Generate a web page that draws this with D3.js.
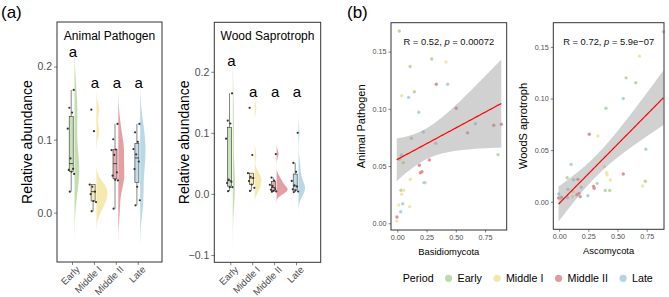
<!DOCTYPE html>
<html>
<head>
<meta charset="utf-8">
<script src="https://cdn.jsdelivr.net/npm/d3@7"></script>
<style>
  body { margin: 0; background: #fff; }
  svg { display: block; font-family: "Liberation Sans", Arial, sans-serif; }
</style>
</head>
<body>
<div id="chart"></div>
<script>
const periods = ["Early", "Middle I", "Middle II", "Late"];
const periodColors = ["#b3d69a", "#f3e39a", "#df878b", "#a6cee0"];

// [period, Basidiomycota, Animal Pathogen]
const apPoints = [
  ["Early", 0.017, 0.168], ["Early", 0.109, 0.137], ["Early", 0.294, 0.1436], ["Early", 0.146, 0.115],
  ["Early", 0.120, 0.0743], ["Early", 0.017, 0.056], ["Early", 0.051, 0.053], ["Early", 0.861, 0.060],
  ["Early", 0.032, 0.0288], ["Early", 0.035, 0.0585],
  ["Middle I", 0.416, 0.141], ["Middle I", 0.037, 0.1115], ["Middle I", 0.111, 0.0385], ["Middle I", 0.240, 0.0355],
  ["Middle I", 0.055, 0.0288], ["Middle I", 0.037, 0.0253], ["Middle I", 0.012, 0.016], ["Middle I", 0.106, 0.0145],
  ["Middle I", -0.005, 0.002],
  ["Middle II", 0.333, 0.1215], ["Middle II", 0.504, 0.1005], ["Middle II", 0.600, 0.079], ["Middle II", 0.824, 0.0857],
  ["Middle II", 0.889, 0.0865], ["Middle II", 0.188, 0.0507], ["Middle II", 0.274, 0.0553], ["Middle II", 0.197, 0.0442],
  ["Middle II", 0.211, 0.045], ["Middle II", -0.003, 0.0055],
  ["Late", 0.430, 0.1215], ["Late", 0.097, 0.110], ["Late", 0.183, 0.097], ["Late", 0.222, 0.0798],
  ["Late", 0.328, 0.070], ["Late", 0.667, 0.087], ["Late", 0.037, 0.0597], ["Late", 0.228, 0.0355],
  ["Late", 0.046, 0.017], ["Late", 0.029, 0.0101]
];

// [period, Ascomycota, Wood Saprotroph]
const wsPoints = [
  ["Early", 0.893, 0.1647], ["Early", 0.573, 0.120], ["Early", 0.656, 0.1153], ["Early", 0.401, 0.0905],
  ["Early", 0.069, 0.0233], ["Early", 0.738, 0.0198], ["Early", 0.326, 0.0178], ["Early", 0.395, 0.011],
  ["Early", 0.433, 0.011], ["Early", 0.020, 0.0045],
  ["Middle I", 0.687, 0.141], ["Middle I", 0.332, 0.0637], ["Middle I", 0.386, 0.034], ["Middle I", 0.407, 0.0281],
  ["Middle I", 0.438, 0.021], ["Middle I", 0.716, 0.0152], ["Middle I", 0.115, 0.0049], ["Middle I", 0.410, 0.026],
  ["Middle I", 0.120, 0.010],
  ["Middle II", 0.258, 0.0653], ["Middle II", 0.549, 0.0268], ["Middle II", 0.161, 0.0217], ["Middle II", 0.295, 0.0149],
  ["Middle II", 0.152, 0.0068], ["Middle II", 0.180, 0.0049], ["Middle II", -0.005, 0.0036], ["Middle II", 0.170, 0.008],
  ["Middle II", 0.020, 0.004], ["Middle II", 0.300, 0.013],
  ["Late", 0.549, 0.100], ["Late", 0.742, 0.0508], ["Late", 0.103, 0.0362], ["Late", 0.124, 0.0213],
  ["Late", 0.189, 0.014], ["Late", 0.075, 0.012], ["Late", -0.003, 0.0075], ["Late", 0.246, 0.0058],
  ["Late", 0.072, 0.0039], ["Late", 0.010, 0.003]
];

const groupLetters = ["a", "a", "a", "a"];
const apLetterY = [0.213, 0.171, 0.171, 0.171];
const wsLetterY = [0.210, 0.158, 0.158, 0.158];
const apTicks = [0, 0.1, 0.2];
const wsTicks = [-0.1, 0, 0.1, 0.2];
const scatterYTicks = [0, 0.05, 0.10, 0.15];
const scatterXTicks = [0, 0.25, 0.5, 0.75];
const statAP = ["R = 0.52, ", "p", " = 0.00072"];
const statWS = ["R = 0.72, ", "p", " = 5.9e\u221207"];

const W = 669, H = 297;
const svg = d3.select("#chart").append("svg").attr("width", W).attr("height", H);
const colorOf = d3.scaleOrdinal().domain(periods).range(periodColors);

// panel tags
svg.append("text").attr("x", 1).attr("y", 18).attr("font-size", 17).text("(a)");
svg.append("text").attr("x", 347).attr("y", 18).attr("font-size", 17).text("(b)");

function styleAxis(ax, size) {
  ax.select(".domain").remove();
  ax.selectAll(".tick line").attr("stroke", "#333").attr("stroke-width", 0.6);
  ax.selectAll(".tick text").attr("fill", "#4d4d4d").attr("font-size", size).attr("font-family", null);
}

function gauss(u) { return Math.exp(-0.5 * u * u) / Math.sqrt(2 * Math.PI); }

function rainPanel(cfg) {
  const { L, R, T, B } = cfg;
  const y = d3.scaleLinear().domain(cfg.yDomain).range([B, T]);
  const x = d3.scalePoint().domain(periods).range(cfg.catRange);
  const g = svg.append("g");

  const groups = periods.map(p => {
    const vals = cfg.data.filter(d => d[0] === p).map(d => d[2]).sort(d3.ascending);
    const q1 = d3.quantile(vals, 0.25), q3 = d3.quantile(vals, 0.75), med = d3.quantile(vals, 0.5);
    const iqr = q3 - q1;
    const bw = 0.9 * Math.min(d3.deviation(vals), iqr / 1.34) * Math.pow(vals.length, -0.2);
    const lo = vals[0] - 3 * bw, hi = vals[vals.length - 1] + 3 * bw;
    const dens = d3.range(0, 121).map(i => {
      const v = lo + (hi - lo) * i / 120;
      return [v, d3.mean(vals, s => gauss((v - s) / bw)) / bw];
    });
    const inF = vals.filter(v => v >= q1 - 1.5 * iqr && v <= q3 + 1.5 * iqr);
    return { p, vals, q1, q3, med, wLo: d3.min(inF), wHi: d3.max(inF), dens };
  });
  const maxD = d3.max(groups, gr => d3.max(gr.dens, d => d[1]));

  // half violins
  groups.forEach(gr => {
    const base = x(gr.p) + 2.5;
    const area = d3.area()
      .y(d => y(d[0]))
      .x0(base)
      .x1(d => base + d[1] / maxD * cfg.violinW)
      .curve(d3.curveBasis);
    g.append("path").attr("d", area(gr.dens))
      .attr("fill", colorOf(gr.p)).attr("fill-opacity", 0.8);
  });

  // boxes
  groups.forEach(gr => {
    const cx = x(gr.p) - 0.8, bw = 4;
    g.append("line").attr("x1", cx).attr("x2", cx).attr("y1", y(gr.wHi)).attr("y2", y(gr.q3))
      .attr("stroke", "#333").attr("stroke-width", 0.6);
    g.append("line").attr("x1", cx).attr("x2", cx).attr("y1", y(gr.q1)).attr("y2", y(gr.wLo))
      .attr("stroke", "#333").attr("stroke-width", 0.6);
    g.append("rect").attr("x", cx - bw / 2).attr("width", bw)
      .attr("y", y(gr.q3)).attr("height", y(gr.q1) - y(gr.q3))
      .attr("fill", colorOf(gr.p)).attr("fill-opacity", 0.7)
      .attr("stroke", "#333").attr("stroke-width", 0.6);
    g.append("line").attr("x1", cx - bw / 2).attr("x2", cx + bw / 2)
      .attr("y1", y(gr.med)).attr("y2", y(gr.med))
      .attr("stroke", "#222").attr("stroke-width", 0.8);
  });

  // jittered raw points (deterministic spread)
  groups.forEach(gr => {
    gr.vals.forEach((v, i) => {
      const off = (((i * 0.618034 + 0.3) % 1) - 0.5) * 7;
      g.append("circle").attr("cx", x(gr.p) - 0.8 + off).attr("cy", y(v)).attr("r", 1.1)
        .attr("fill", "#333");
    });
  });

  // significance letters
  periods.forEach((p, i) => {
    g.append("text").attr("x", x(p) + 1).attr("y", y(cfg.letterY[i]))
      .attr("text-anchor", "middle").attr("font-size", 15).text(groupLetters[i]);
  });

  // axes
  const ay = g.append("g").attr("transform", `translate(${L},0)`)
    .call(d3.axisLeft(y).tickValues(cfg.ticks).tickFormat(d3.format(".1f")).tickSize(3).tickPadding(2));
  styleAxis(ay, 10.5);
  const ax = g.append("g").attr("transform", `translate(0,${B})`)
    .call(d3.axisBottom(x).tickSize(3));
  styleAxis(ax, 9.6);
  ax.selectAll(".tick text")
    .attr("text-anchor", "end").attr("y", 0).attr("dy", 0)
    .attr("transform", "translate(8,8) rotate(-45)");

  g.append("rect").attr("x", L).attr("y", T).attr("width", R - L).attr("height", B - T)
    .attr("fill", "none").attr("stroke", "#333").attr("stroke-width", 1);

  g.append("text").attr("x", (L + R) / 2).attr("y", T + 18).attr("text-anchor", "middle")
    .attr("font-size", 12).text(cfg.title);
  g.append("text").attr("transform", `translate(${L - 25},${(T + B) / 2}) rotate(-90)`)
    .attr("text-anchor", "middle").attr("font-size", 14).text("Relative abundance");
}

function scatterPanel(cfg) {
  const { L, R, T, B } = cfg;
  const x = d3.scaleLinear().domain(cfg.xDomain).range([L, R]);
  const y = d3.scaleLinear().domain(cfg.yDomain).range([B, T]);
  const g = svg.append("g");

  g.selectAll(".pt").data(cfg.data).enter().append("circle")
    .attr("cx", d => x(d[1])).attr("cy", d => y(d[2])).attr("r", 1.7)
    .attr("fill", d => colorOf(d[0])).attr("fill-opacity", 0.9);

  // linear fit with 95% confidence band
  const pts = cfg.data.map(d => [d[1], d[2]]);
  const n = pts.length;
  const xbar = d3.mean(pts, d => d[0]), ybar = d3.mean(pts, d => d[1]);
  const sxx = d3.sum(pts, d => (d[0] - xbar) ** 2);
  const sxy = d3.sum(pts, d => (d[0] - xbar) * (d[1] - ybar));
  const b = sxy / sxx, a = ybar - b * xbar;
  const s2 = d3.sum(pts, d => (d[1] - a - b * d[0]) ** 2) / (n - 2);
  const tq = 2.03;
  const [xmin, xmax] = d3.extent(pts, d => d[0]);
  const fit = d3.range(0, 81).map(i => {
    const xv = xmin + (xmax - xmin) * i / 80;
    const se = Math.sqrt(s2 * (1 / n + (xv - xbar) ** 2 / sxx));
    const yh = a + b * xv;
    return { xv, yh, lo: yh - tq * se, hi: yh + tq * se };
  });
  g.append("path")
    .attr("d", d3.area().x(d => x(d.xv)).y0(d => y(d.lo)).y1(d => y(d.hi))(fit))
    .attr("fill", "#999").attr("fill-opacity", 0.45);
  g.append("path")
    .attr("d", d3.line().x(d => x(d.xv)).y(d => y(d.yh))(fit))
    .attr("fill", "none").attr("stroke", "#ff0000").attr("stroke-width", 1.2);

  const ay = g.append("g").attr("transform", `translate(${L},0)`)
    .call(d3.axisLeft(y).tickValues(scatterYTicks).tickFormat(d3.format(".2f")).tickSize(2.5).tickPadding(2));
  styleAxis(ay, 7.2);
  const ax = g.append("g").attr("transform", `translate(0,${B})`)
    .call(d3.axisBottom(x).tickValues(scatterXTicks).tickFormat(d3.format(".2f")).tickSize(2.5).tickPadding(2));
  styleAxis(ax, 7.2);

  g.append("rect").attr("x", L).attr("y", T).attr("width", R - L).attr("height", B - T)
    .attr("fill", "none").attr("stroke", "#333").attr("stroke-width", 1);

  const st = g.append("text").attr("x", (L + R) / 2).attr("y", T + 22)
    .attr("text-anchor", "middle").attr("font-size", 9.4).attr("fill", "#111");
  st.append("tspan").text(cfg.stat[0]);
  st.append("tspan").attr("font-style", "italic").text(cfg.stat[1]);
  st.append("tspan").text(cfg.stat[2]);

  g.append("text").attr("x", (L + R) / 2).attr("y", B + 25).attr("text-anchor", "middle")
    .attr("font-size", 9.4).text(cfg.xTitle);
  g.append("text").attr("transform", `translate(${L - 26},${(T + B) / 2}) rotate(-90)`)
    .attr("text-anchor", "middle").attr("font-size", 11).text(cfg.yTitle);
}

rainPanel({ L: 57, R: 162, T: 22, B: 262, yDomain: [-0.0675, 0.261], ticks: apTicks,
  catRange: [72, 137.7], data: apPoints, letterY: apLetterY, title: "Animal Pathogen", violinW: 11 });
rainPanel({ L: 214.3, R: 320.7, T: 22.3, B: 262.3, yDomain: [-0.112, 0.281], ticks: wsTicks,
  catRange: [230.3, 296], data: wsPoints, letterY: wsLetterY, title: "Wood Saprotroph", violinW: 11 });

scatterPanel({ L: 391, R: 506.7, T: 22.7, B: 230, xDomain: [-0.054, 0.935], yDomain: [-0.0059, 0.1753],
  data: apPoints, stat: statAP, xTitle: "Basidiomycota", yTitle: "Animal Pathogen" });
scatterPanel({ L: 553.3, R: 664, T: 22.7, B: 229.3, xDomain: [-0.05, 0.898], yDomain: [-0.0267, 0.1734],
  data: wsPoints, stat: statWS, xTitle: "Ascomycota", yTitle: "WoodS aprotroph" });

// legend
const leg = svg.append("g").attr("font-size", 10.7);
const legTitle = leg.append("text").attr("x", 402.7).attr("y", 282).text("Period");
let cursor = 402.7 + legTitle.node().getComputedTextLength() + 11.4;
periods.forEach(p => {
  leg.append("circle").attr("cx", cursor + 3.6).attr("cy", 278.3).attr("r", 3.6)
    .attr("fill", colorOf(p)).attr("fill-opacity", 0.85);
  const t = leg.append("text").attr("x", cursor + 12.5).attr("y", 282).text(p);
  cursor = cursor + 12.5 + t.node().getComputedTextLength() + 11.6;
});
</script>
</body>
</html>
